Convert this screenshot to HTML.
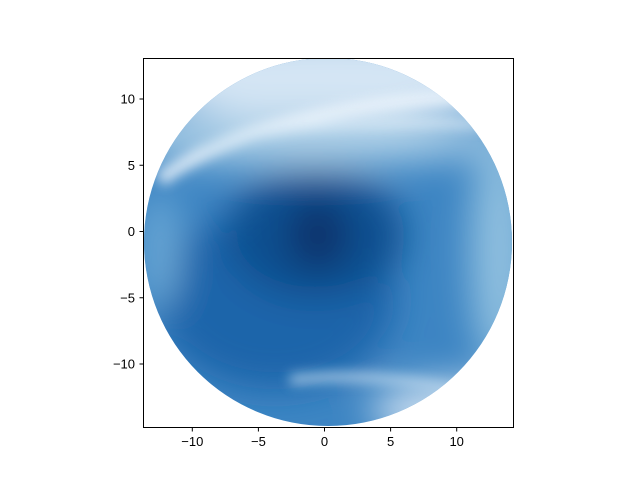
<!DOCTYPE html>
<html><head><meta charset="utf-8"><style>
body{margin:0;background:#fff;}
svg{display:block;font-family:"Liberation Sans","DejaVu Sans",sans-serif;}
</style></head><body>
<svg id="chart" width="640" height="480" viewBox="0 0 640 480">
<defs>
<clipPath id="disc"><circle cx="328" cy="242" r="184"/></clipPath>
<filter id="blur" x="-50%" y="-50%" width="200%" height="200%"><feGaussianBlur stdDeviation="18"/></filter>
<filter id="blur2" x="-50%" y="-50%" width="200%" height="200%"><feGaussianBlur stdDeviation="6"/></filter>
</defs>
<g clip-path="url(#disc)">
<rect x="140" y="55" width="380" height="380" fill="#3d85c3"/>
<g filter="url(#blur)">
<ellipse cx="275" cy="300" rx="120" ry="90" fill="#1c65aa"/>
<ellipse cx="315" cy="235" rx="90" ry="65" fill="#104f90"/>
<ellipse cx="318" cy="235" rx="30" ry="35" fill="#08306b"/>
<ellipse cx="500" cy="250" rx="30" ry="120" fill="#8fbfdf"/>
<ellipse cx="330" cy="75" rx="220" ry="45" fill="#d4e5f4"/>
<ellipse cx="300" cy="140" rx="200" ry="25" fill="#a9cde6"/>
<ellipse cx="460" cy="410" rx="90" ry="30" fill="#c6dbef"/>
<ellipse cx="160" cy="250" rx="20" ry="60" fill="#6aa8d6"/>
</g>
<g filter="url(#blur2)" opacity="0.8">
<path d="M160 180 Q250 110 470 95" stroke="#eef5fc" stroke-width="14" fill="none"/>
<path d="M200 150 Q300 115 480 125" stroke="#dcebf7" stroke-width="8" fill="none"/>
<path d="M290 380 Q380 370 470 395" stroke="#b8d5ec" stroke-width="10" fill="none"/>
</g>
</g>
<rect x="143.5" y="58.5" width="370" height="369" fill="none" stroke="#000" stroke-width="1"/>
<g id="xt"></g>
<g id="yt"></g>
</svg>
<script>
const xTicks=[-10,-5,0,5,10];
const yTicks=[10,5,0,-5,-10];
const xLabels=["−10","−5","0","5","10"];
const yLabels=["10","5","0","−5","−10"];
const ns="http://www.w3.org/2000/svg";
const sx=v=>324.5+v*13.22, sy=v=>231.5-v*13.25;
const xt=document.getElementById('xt'), yt=document.getElementById('yt');
xTicks.forEach((v,i)=>{
 const l=document.createElementNS(ns,'line');
 
 
 l.setAttribute('x1',sx(v));l.setAttribute('x2',sx(v));l.setAttribute('y1',428);l.setAttribute('y2',431.5);l.setAttribute('stroke','#000');
 xt.appendChild(l);
 const t=document.createElementNS(ns,'text');
 
 
 t.setAttribute('x',sx(v));t.setAttribute('y',446);t.setAttribute('font-size','13');t.setAttribute('text-anchor','middle');
 t.textContent=xLabels[i];xt.appendChild(t);
});
yTicks.forEach((v,i)=>{
 const l=document.createElementNS(ns,'line');
 
 
 l.setAttribute('x1',139.5);l.setAttribute('x2',143);l.setAttribute('y1',sy(v));l.setAttribute('y2',sy(v));l.setAttribute('stroke','#000');
 yt.appendChild(l);
 const t=document.createElementNS(ns,'text');
 
 
 t.setAttribute('x',135);t.setAttribute('y',sy(v)+4.5);t.setAttribute('font-size','13');t.setAttribute('text-anchor','end');
 t.textContent=yLabels[i];yt.appendChild(t);
});
</script>
</body></html>
